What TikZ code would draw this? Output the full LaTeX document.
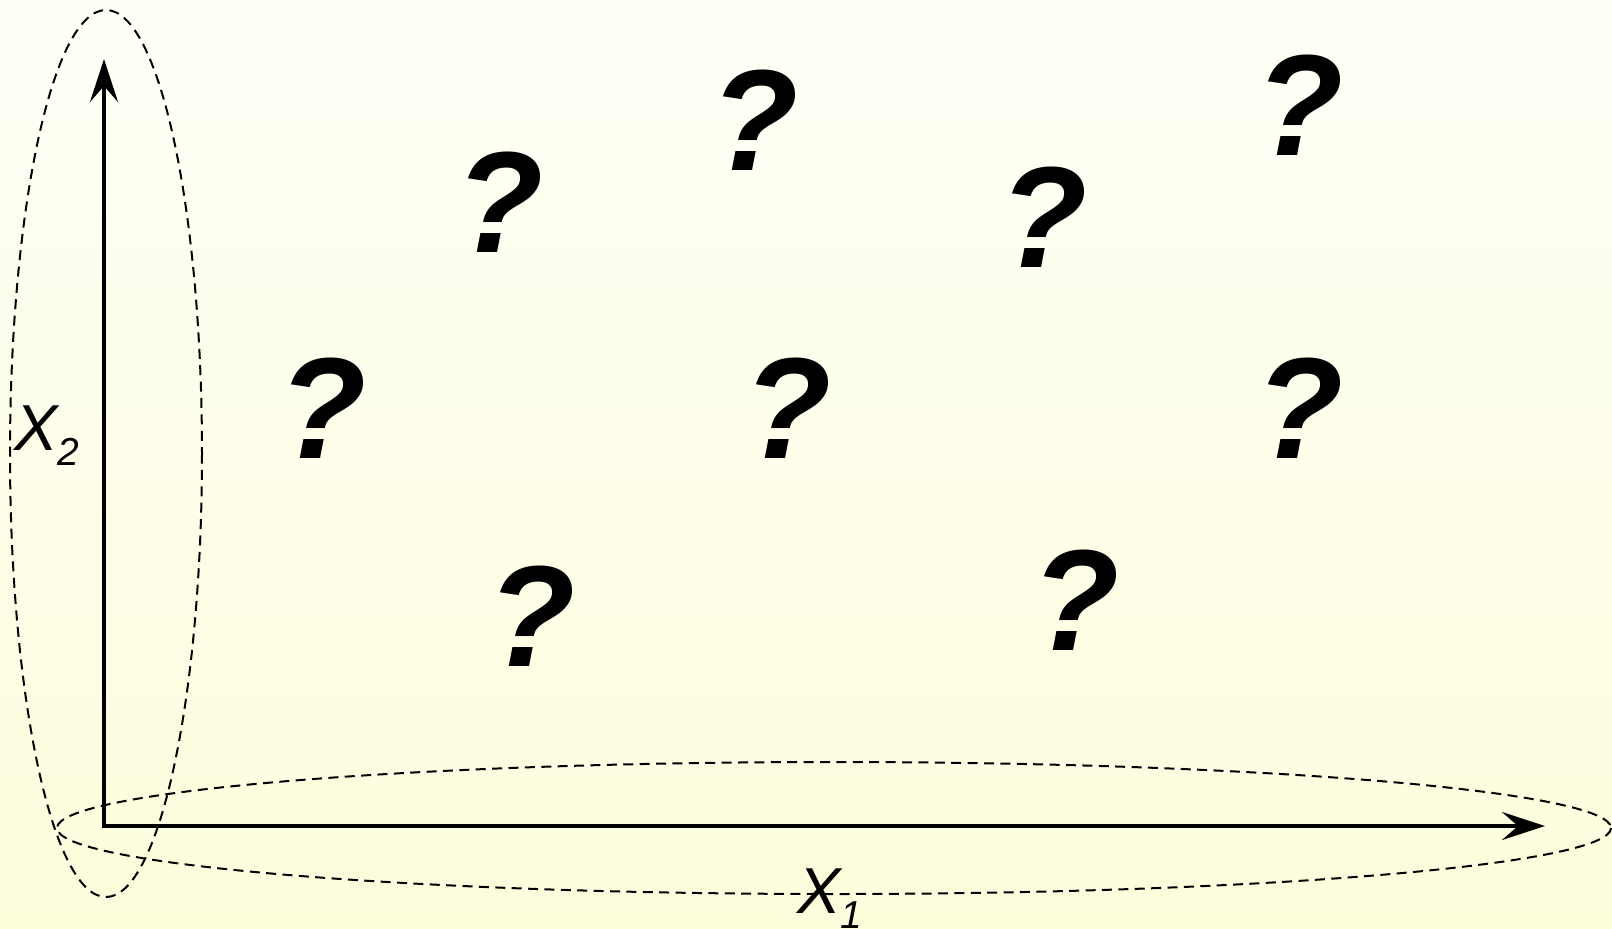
\documentclass[tikz,border=0pt]{standalone}
\usepackage{fontspec}
\setmainfont{Liberation Sans}
\usetikzlibrary{arrows.meta}
\definecolor{bgtop}{RGB}{255,255,248}
\definecolor{bgbot}{RGB}{253,253,220}
\tikzset{
  axisline/.style={line width=2.1pt, line join=miter,
    {Stealth[length=21.5pt,width=14pt,inset=8pt]}-{Stealth[length=21.5pt,width=14pt,inset=8pt]}},
  dashring/.style={line width=1pt, dash pattern=on 5pt off 3.2pt},
  qmark/.style={inner sep=0pt, font=\fontsize{72}{80}\selectfont\bfseries\itshape},
  axlabel/.style={inner sep=0pt, anchor=base west, font=\fontsize{32.5}{36}\selectfont\itshape}
}
\newcommand{\subnum}[1]{\raisebox{-7.5pt}{\fontsize{19.5}{22}\selectfont #1}}
\begin{document}
\begin{tikzpicture}[x=0.5pt,y=-0.5pt]
\useasboundingbox (0,0) rectangle (1612,928);
\shade[top color=bgtop, bottom color=bgbot] (0,0) rectangle (1612,928);
% dashed ellipses
\draw[dashring] (106,453.5) ellipse [x radius=96, y radius=443.5];
\draw[dashring] (834,828) ellipse [x radius=777, y radius=66];
% axes
\coordinate (O) at (104,826);
\coordinate (ytip) at (104,59);
\coordinate (xtip) at (1545,826);
\draw[axisline] (ytip) -- (O) -- (xtip);
% labels
\node[axlabel] (lx2) at (14,450) {X\subnum{2}};
\node[axlabel] (lx1) at (797,913) {X\subnum{1}};
% question marks
\node[qmark] (q1) at (499,202) {?};
\node[qmark] (q2) at (754,120) {?};
\node[qmark] (q3) at (1043,217) {?};
\node[qmark] (q4) at (1299,105) {?};
\node[qmark] (q5) at (322,408) {?};
\node[qmark] (q6) at (787,408) {?};
\node[qmark] (q7) at (1299,408) {?};
\node[qmark] (q8) at (531,616) {?};
\node[qmark] (q9) at (1075,600) {?};
\end{tikzpicture}
\end{document}
